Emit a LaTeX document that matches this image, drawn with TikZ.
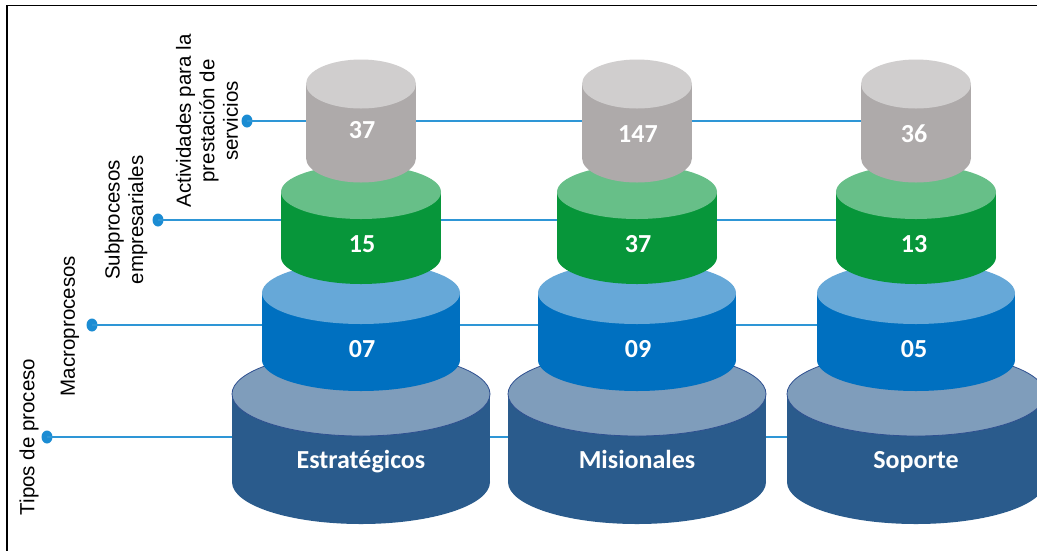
\documentclass[tikz,border=0pt]{standalone}
\usepackage{fontspec}
\setmainfont{Liberation Sans}
\newfontfamily\carlito{Carlito}
\usetikzlibrary{shapes.geometric}
\definecolor{greyside}{HTML}{AEAAAA}
\definecolor{greytop}{HTML}{D0CECE}
\definecolor{greenside}{HTML}{07963A}
\definecolor{greentop}{HTML}{67BF88}
\definecolor{blueside}{HTML}{0070C0}
\definecolor{bluetop}{HTML}{66A8D8}
\definecolor{baseside}{HTML}{2A5B8C}
\definecolor{basetop}{HTML}{7F9DBB}
\definecolor{baseedge}{HTML}{2F5090}
\definecolor{linkblue}{HTML}{2E96D6}
\definecolor{dotblue}{HTML}{1B8CD3}
\newcommand\cylpart[7]{%
  \fill[#6] (#1-#4,#2) rectangle (#1+#4,#3);
  \fill[#6] (#1,#3) ellipse [x radius=#4, y radius=#5];
  \fill[#7] (#1,#2) ellipse [x radius=#4, y radius=#5];
}
\tikzset{
  num/.style={text=white, font=\carlito\bfseries\fontsize{26}{30}\selectfont, anchor=base, inner sep=0pt},
  lab/.style={rotate=90, align=center, font=\fontsize{20.5}{23.5}\selectfont, inner sep=0pt},
  dotnode/.style={ellipse, fill=dotblue, minimum width=11pt, minimum height=13pt, inner sep=0pt},
  conn/.style={draw=linkblue, line width=1.5pt},
}
\begin{document}
\begin{tikzpicture}[x=1pt,y=-1pt]
\useasboundingbox (0,0) rectangle (1037,550);
\clip (0,0) rectangle (1037,550);
\fill[white] (0,0) rectangle (1037,550);
\draw[line width=1.6pt] (7,5.3) rectangle (1080,600);

% labels
\node[lab] (t4) at (29,437) {Tipos de proceso};
\node[lab] (t3) at (70,326) {Macroprocesos};
\node[lab] (t2) at (126,220) {Subprocesos\\empresariales};
\node[lab] (t1) at (207,121) {Actividades para la\\prestación de\\servicios};

% connectors
\node[dotnode] (d1) at (247,121) {};
\node[dotnode] (d2) at (158,220) {};
\node[dotnode] (d3) at (92,325) {};
\node[dotnode] (d4) at (47,437) {};
\coordinate (e1) at (915,121);
\coordinate (e2) at (915,220);
\coordinate (e3) at (915,325);
\coordinate (e4) at (915,437);
\draw[conn] (d1.center) -- (e1);
\draw[conn] (d2.center) -- (e2);
\draw[conn] (d3.center) -- (e3);
\draw[conn] (d4.center) -- (e4);

% cylinders
\foreach \cx in {361,637,916}{
  \cylpart{\cx}{394}{482}{129}{42}{baseside}{basetop}
  \draw[baseedge, line width=0.8pt] (\cx,394) ellipse [x radius=129, y radius=42];
  \cylpart{\cx}{293}{360}{99}{31}{blueside}{bluetop}
  \cylpart{\cx}{192}{257}{80}{27}{greenside}{greentop}
  \cylpart{\cx}{84}{158}{55}{24.5}{greyside}{greytop}
}

% texts
\node[num] (a1) at (362,138) {37};
\node[num] (a2) at (638,142) {147};
\node[num] (a3) at (914,142) {36};
\node[num] (b1) at (362,252) {15};
\node[num] (b2) at (638,252) {37};
\node[num] (b3) at (914,252) {13};
\node[num] (c1) at (362,357) {07};
\node[num] (c2) at (638,357) {09};
\node[num] (c3) at (914,357) {05};
\node[num] (f1) at (361,468) {Estratégicos};
\node[num] (f2) at (637,468) {Misionales};
\node[num] (f3) at (916,468) {Soporte};
\end{tikzpicture}
\end{document}
